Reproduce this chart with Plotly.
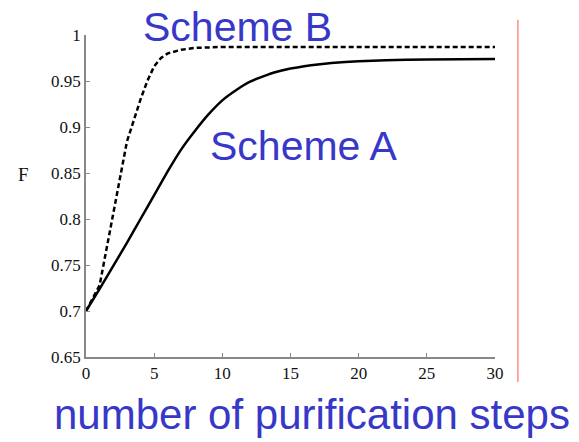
import plotly.graph_objects as go

# Scheme A (solid)
steps_a = [0, 1, 2, 3, 4, 5, 6, 7, 8, 9, 10, 11, 12, 13, 14, 15, 16, 17, 18, 20, 22, 25, 30]
fid_a = [0.700, 0.724, 0.749, 0.774, 0.800, 0.826, 0.852, 0.876, 0.896, 0.914, 0.929,
         0.940, 0.949, 0.955, 0.960, 0.9635, 0.966, 0.968, 0.9695, 0.9715, 0.9725, 0.9735, 0.974]

# Scheme B (dashed)
steps_b = [0, 1, 2, 3, 4, 4.5, 5, 5.5, 6, 7, 8, 10, 15, 20, 30]
fid_b = [0.700, 0.728, 0.806, 0.884, 0.930, 0.950, 0.966, 0.975, 0.980, 0.984, 0.986,
         0.987, 0.987, 0.987, 0.987]

x_ticks = [0, 5, 10, 15, 20, 25, 30]
y_ticks = [0.65, 0.7, 0.75, 0.8, 0.85, 0.9, 0.95, 1]
y_tick_text = ["0.65", "0.7", "0.75", "0.8", "0.85", "0.9", "0.95", "1"]

BLUE = "#3838c8"
SERIF = "Liberation Serif, Times New Roman, serif"
SANS = "Liberation Sans, Arial, sans-serif"

fig = go.Figure()
fig.add_trace(go.Scatter(x=steps_a, y=fid_a, mode="lines", name="Scheme A",
                         line=dict(color="black", width=2.5, shape="spline", smoothing=0.3)))
fig.add_trace(go.Scatter(x=steps_b, y=fid_b, mode="lines", name="Scheme B",
                         line=dict(color="black", width=2.5, dash="5px,3px")))

# page body has an 8px default margin; compensate so the plot lands where intended
fig.update_layout(
    width=571, height=434,
    margin=dict(l=78, r=84, t=27, b=85),
    paper_bgcolor="white", plot_bgcolor="white",
    showlegend=False,
    xaxis=dict(range=[0, 30], tickvals=x_ticks, ticks="inside", ticklen=4,
               tickcolor="#888", showline=True, linecolor="#888", linewidth=1.5,
               showgrid=False, zeroline=False, automargin=False,
               tickfont=dict(family=SERIF, size=17, color="#111")),
    yaxis=dict(range=[0.65, 1.0], tickvals=y_ticks, ticktext=y_tick_text,
               ticks="inside", ticklen=4, tickcolor="#888", showline=True,
               linecolor="#888", linewidth=1.5, showgrid=False, zeroline=False,
               automargin=False,
               tickfont=dict(family=SERIF, size=17, color="#111")),
)

def label(x, y, text, font):
    fig.add_annotation(x=x, y=y, xref="paper", yref="paper", text=text,
                       xanchor="center", yanchor="middle", showarrow=False, font=font)

label(0.370, 1.024, "Scheme B", dict(family=SANS, size=41, color=BLUE))
label(0.532, 0.655, "Scheme A", dict(family=SANS, size=41, color=BLUE))
label(0.553, -0.180, "number of purification steps", dict(family=SANS, size=42, color=BLUE))
label(-0.152, 0.568, "F", dict(family=SERIF, size=19, color="#111"))

fig.add_shape(type="line", xref="paper", yref="paper", x0=1.056, x1=1.056,
              y0=-0.078, y1=1.047, line=dict(color="#ff8c8c", width=1.5))

fig.write_html("out.html")
